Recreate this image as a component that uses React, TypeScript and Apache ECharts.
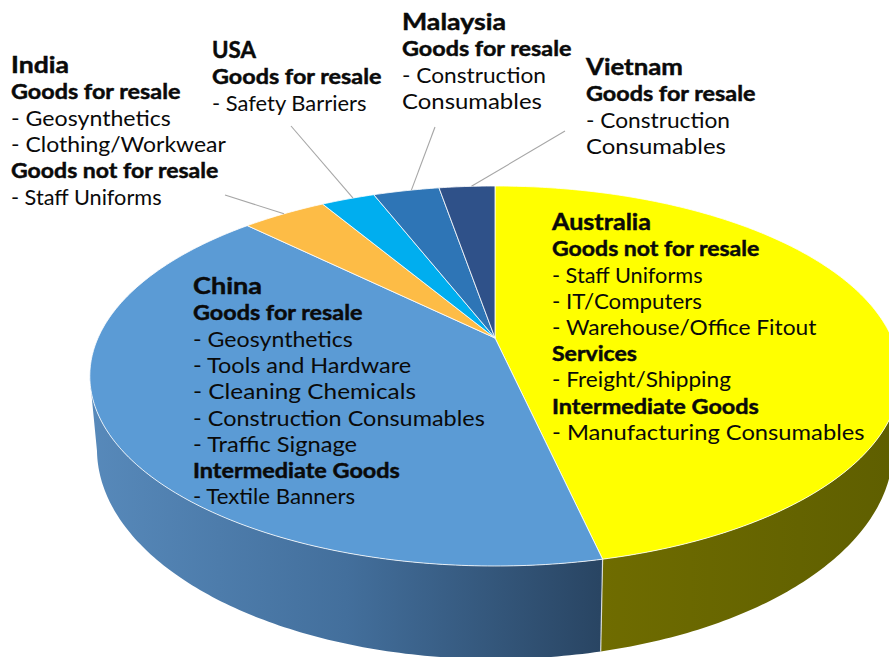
import React, { useEffect, useRef } from "react";
import * as echarts from "echarts";

const countries = ["Australia", "China", "India", "USA", "Malaysia", "Vietnam"];
const shares = [46.5, 40.9, 4.1, 2.6, 3.2, 2.7];
const topColors = ["#FFFF00", "#5B9BD5", "#FDBC46", "#00AEEF", "#2E75B6", "#2F5189"];

// Label text: "t" = country title, "b" = bold heading, "n" = normal line
const australiaLines = [
  ["t", "Australia"], ["b", "Goods not for resale"], ["n", "- Staff Uniforms"], ["n", "- IT/Computers"],
  ["n", "- Warehouse/Office Fitout"], ["b", "Services"], ["n", "- Freight/Shipping"],
  ["b", "Intermediate Goods"], ["n", "- Manufacturing Consumables"],
];
const chinaLines = [
  ["t", "China"], ["b", "Goods for resale"], ["n", "- Geosynthetics"], ["n", "- Tools and Hardware"],
  ["n", "- Cleaning Chemicals"], ["n", "- Construction Consumables"], ["n", "- Traffic Signage"],
  ["b", "Intermediate Goods"], ["n", "- Textile Banners"],
];
const indiaLines = [
  ["t", "India"], ["b", "Goods for resale"], ["n", "- Geosynthetics"], ["n", "- Clothing/Workwear"],
  ["b", "Goods not for resale"], ["n", "- Staff Uniforms"],
];
const usaLines = [["t", "USA"], ["b", "Goods for resale"], ["n", "- Safety Barriers"]];
const malaysiaLines = [["t", "Malaysia"], ["b", "Goods for resale"], ["n", "- Construction"], ["n", "Consumables"]];
const vietnamLines = [["t", "Vietnam"], ["b", "Goods for resale"], ["n", "- Construction"], ["n", "Consumables"]];
const labelLines = [australiaLines, chinaLines, indiaLines, usaLines, malaysiaLines, vietnamLines];

// Layout: the width each text line occupies in the picture
const lineWidths: Record<string, number> = {
  "Australia": 99, "China": 69, "India": 58, "USA": 44, "Malaysia": 104, "Vietnam": 97,
  "Goods for resale": 170, "Goods not for resale": 208, "Services": 85, "Intermediate Goods": 207,
  "- Staff Uniforms": 151, "- IT/Computers": 150, "- Warehouse/Office Fitout": 265,
  "- Freight/Shipping": 179, "- Manufacturing Consumables": 313, "- Geosynthetics": 160,
  "- Tools and Hardware": 219, "- Cleaning Chemicals": 223, "- Construction Consumables": 292,
  "- Traffic Signage": 165, "- Textile Banners": 163, "- Clothing/Workwear": 215,
  "- Safety Barriers": 155, "- Construction": 144, "Consumables": 140,
};
const labelAnchors = [[552, 222], [193, 286], [11, 65], [212, 50], [402, 22], [586, 67]];
const leaderEnds: (number[] | null)[] = [null, null, [225, 195], [291, 126], [435, 127], [565, 131]];
const leaderAttach = [0.5, 0.5, 0.5, 0.6, 0.58, 0.58];
const LINE = 26.2;
const TOP_DISC = { ax: 495, ay: 338, A: 397, B: 182.4, p: 0.2 };
const BOTTOM_DISC = { ax: 495, ay: 407, A: 390, B: 201.6, p: 0.2 };
const VISIBLE_FROM = 102;
const VISIBLE_TO = 258;

const sideFills = [
  new echarts.graphic.LinearGradient(600, 0, 889, 0, [
    { offset: 0, color: "#6F6C00" }, { offset: 1, color: "#5F5F00" },
  ], true),
  new echarts.graphic.LinearGradient(92, 0, 600, 0, [
    { offset: 0, color: "#5789BA" }, { offset: 0.5, color: "#436F9C" }, { offset: 1, color: "#294563" },
  ], true),
];

const total = shares.reduce((a, b) => a + b, 0);
const startAngles = shares.map((_, i) => shares.slice(0, i).reduce((a, b) => a + b, 0) / total * 360);
const endAngles = shares.map((_, i) => shares.slice(0, i + 1).reduce((a, b) => a + b, 0) / total * 360);

function project(disc: typeof TOP_DISC, deg: number) {
  const r = (deg * Math.PI) / 180;
  const s = Math.sin(r);
  const c = Math.cos(r);
  const w = 1 + disc.p * c;
  return [disc.ax + (disc.A * s) / w, disc.ay - (disc.B * c) / w];
}
function arc(disc: typeof TOP_DISC, from: number, to: number) {
  const n = Math.max(2, Math.ceil(Math.abs(to - from) / 0.75));
  const out: number[][] = [];
  for (let k = 0; k <= n; k++) out.push(project(disc, from + ((to - from) * k) / n));
  return out;
}

const renderSide = (_: any, api: any) => {
  const i = api.value(0);
  const from = Math.max(startAngles[i], VISIBLE_FROM);
  const to = Math.min(endAngles[i], VISIBLE_TO);
  if (to <= from || !sideFills[i]) return { type: "group", children: [] };
  const points = [...arc(TOP_DISC, from, to), ...arc(BOTTOM_DISC, to, from)];
  const children: any[] = [{ type: "polygon", shape: { points }, style: { fill: sideFills[i] } }];
  if (endAngles[i] < VISIBLE_TO) {
    const a = project(TOP_DISC, endAngles[i]);
    const b = project(BOTTOM_DISC, endAngles[i]);
    children.push({
      type: "line", z2: 5,
      shape: { x1: a[0], y1: a[1], x2: b[0], y2: b[1] },
      style: { stroke: "rgba(255,255,255,0.75)", lineWidth: 1.2 },
    });
  }
  return { type: "group", children };
};

const renderTop = (_: any, api: any) => {
  const i = api.value(0);
  const points = [[TOP_DISC.ax, TOP_DISC.ay], ...arc(TOP_DISC, startAngles[i], endAngles[i])];
  return {
    type: "polygon",
    shape: { points },
    style: { fill: topColors[i], stroke: "rgba(255,255,255,0.8)", lineWidth: 1, lineJoin: "round" },
  };
};

const renderLeader = (_: any, api: any) => {
  const i = api.value(0);
  const end = leaderEnds[i];
  if (!end) return { type: "group", children: [] };
  const p = project(TOP_DISC, startAngles[i] + (endAngles[i] - startAngles[i]) * leaderAttach[i]);
  return {
    type: "line",
    shape: { x1: end[0], y1: end[1], x2: p[0], y2: p[1] },
    style: { stroke: "#A6A6A6", lineWidth: 1.1 },
  };
};

const FONT = "Lato";
const INK = "#0A0A0A";
const styleByKind: any = {
  t: { font: `bold 23.5px ${FONT}`, lw: 0.45, dy: -1 },
  b: { font: `bold 20.5px ${FONT}`, lw: 0.45, dy: -0.5 },
  n: { font: `20.5px ${FONT}`, lw: 0, dy: 0 },
};

function labelGraphics() {
  const ctx = document.createElement("canvas").getContext("2d")!;
  const out: any[] = [];
  labelLines.forEach((lines, i) => {
    const [x, y0] = labelAnchors[i];
    lines.forEach(([kind, text], k) => {
      const st = styleByKind[kind];
      ctx.font = st.font;
      const measured = ctx.measureText(text).width;
      out.push({
        type: "text",
        x,
        y: y0 + st.dy + (k === 0 ? 0 : 0.7 + k * LINE),
        scaleX: lineWidths[text] / measured,
        z: 20,
        style: {
          text, font: st.font, fill: INK, textAlign: "left", textVerticalAlign: "middle",
          stroke: st.lw ? INK : undefined, lineWidth: st.lw,
        },
      });
    });
  });
  return out;
}

export default function App() {
  const ref = useRef<HTMLDivElement>(null);
  useEffect(() => {
    document.body.style.margin = "0";
    const chart = echarts.init(ref.current!, undefined, { renderer: "svg" });
    const rows = countries.map((name, i) => ({ name, value: [i, shares[i]] }));
    chart.setOption({
      animation: false,
      backgroundColor: "#FFFFFF",
      series: [
        { type: "custom", coordinateSystem: "none", renderItem: renderSide, data: rows, z: 1, silent: true },
        { type: "custom", coordinateSystem: "none", renderItem: renderTop, data: rows, z: 2, silent: true },
        { type: "custom", coordinateSystem: "none", renderItem: renderLeader, data: rows, z: 3, silent: true },
      ],
      graphic: { elements: labelGraphics() },
    });
    return () => chart.dispose();
  }, []);
  return <div ref={ref} style={{ width: 889, height: 657, overflow: "hidden" }} />;
}
